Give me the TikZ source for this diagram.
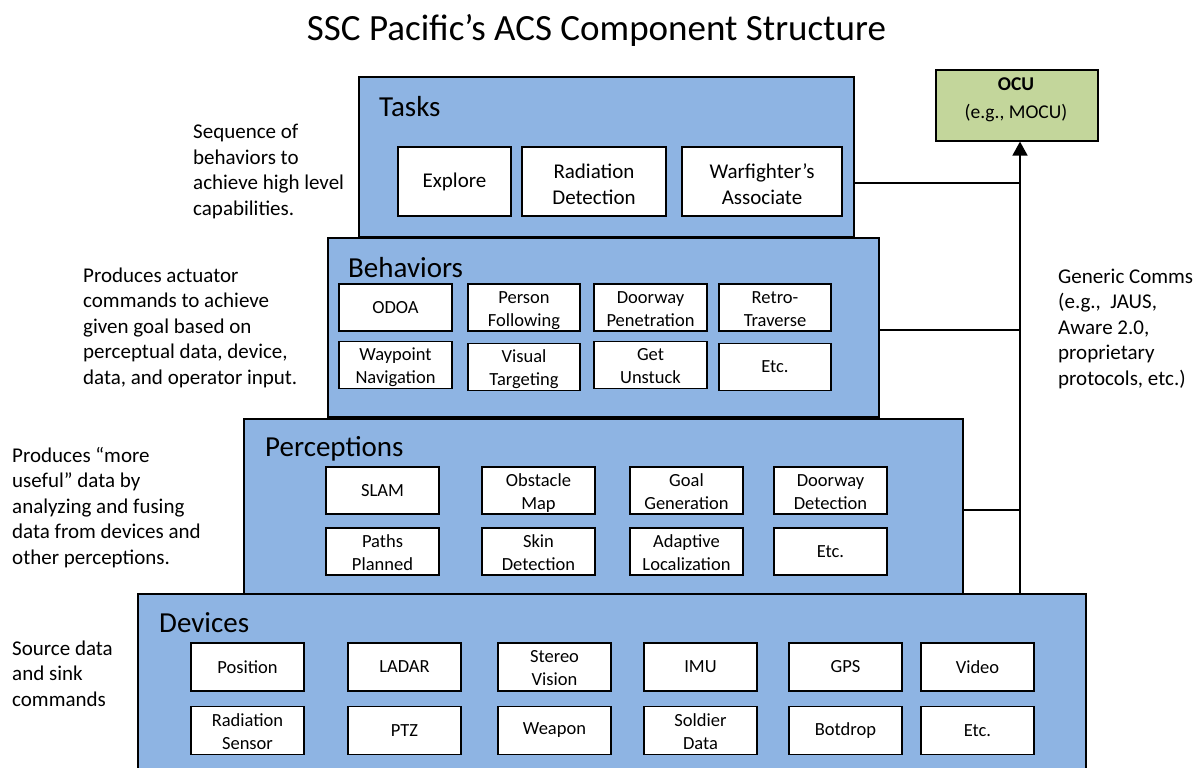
\documentclass[tikz,border=0pt]{standalone}
\usepackage{fontspec}
\setmainfont{Carlito}
\usetikzlibrary{arrows.meta}
\definecolor{layerblue}{HTML}{8EB4E3}
\definecolor{ocugreen}{HTML}{C3D69B}
\newcommand\fsz[2]{\fontsize{#1}{#2}\selectfont}
\tikzset{
  layer/.style={draw=black, fill=layerblue, line width=1.6pt},
  layerlabel/.style={anchor=base west, inner sep=0, font=\fsz{29}{34}},
  ibox/.style={draw=black, fill=white, line width=1.6pt, inner sep=0, align=center,
    minimum width=113, minimum height=47, font=\fsz{18.5}{23}},
  ibox2/.style={ibox, text height=41pt, text depth=4pt},
  tbox/.style={ibox, minimum height=69, font=\fsz{21}{26}},
  tbox2/.style={tbox, text height=49pt, text depth=4pt},
  note/.style={anchor=base west, inner sep=0, align=left, font=\fsz{21}{25.5}},
  conn/.style={line width=1.6pt, draw=black},
}
\begin{document}
\begin{tikzpicture}[x=1pt,y=-1pt]
\useasboundingbox (0,0) rectangle (1200,768);
\fill[white] (0,0) rectangle (1200,768);

% title
\node[anchor=base, inner sep=0, font=\fsz{37}{44}] (title) at (596.5,41) {SSC Pacific’s ACS Component Structure};

% layers
\node[layer, minimum width=948, minimum height=190, anchor=north west, inner sep=0] (devices) at (137,593) {};
\node[layer, minimum width=719, minimum height=175, anchor=north west, inner sep=0] (perceptions) at (243,418) {};
\node[layer, minimum width=551, minimum height=179, anchor=north west, inner sep=0] (behaviors) at (327,237) {};
\node[layer, minimum width=495, minimum height=160, anchor=north west, inner sep=0] (tasks) at (358,76) {};

\node[layerlabel] (tasksl) at (379,116) {Tasks};
\node[layerlabel] (behaviorsl) at (348,277) {Behaviors};
\node[layerlabel] (perceptionsl) at (265,456) {Perceptions};
\node[layerlabel] (devicesl) at (159,632) {Devices};

% tasks
\node[tbox] (explore) at (454.5,181.5) {Explore};
\node[tbox2, minimum width=144] (raddet) at (594,181.5) {Radiation\\Detection};
\node[tbox2, minimum width=160] (warf) at (762,181.5) {Warfighter’s\\Associate};

% behaviors
\node[ibox] (odoa) at (395.5,307.5) {ODOA};
\node[ibox2, minimum width=112] (personf) at (524,307.5) {Person\\Following};
\node[ibox2] (doorpen) at (650.5,307.5) {Doorway\\Penetration};
\node[ibox2, minimum width=112] (retro) at (775,307.5) {Retro-\\Traverse};
\node[ibox2] (waypoint) at (395.5,365) {Waypoint\\Navigation};
\node[ibox2, minimum width=112] (visual) at (524,367) {Visual\\Targeting};
\node[ibox2] (unstuck) at (650.5,365) {Get\\Unstuck};
\node[ibox, minimum width=112] (betc) at (775,367) {Etc.};

% perceptions
\node[ibox] (slam) at (382.5,490.5) {SLAM};
\node[ibox2] (obst) at (538.5,490.5) {Obstacle\\Map};
\node[ibox2] (goal) at (686.5,490.5) {Goal\\Generation};
\node[ibox2] (doordet) at (830.5,490.5) {Doorway\\Detection};
\node[ibox2] (paths) at (382.5,551.5) {Paths\\Planned};
\node[ibox2] (skin) at (538.5,551.5) {Skin\\Detection};
\node[ibox2] (adapt) at (686.5,551.5) {Adaptive\\Localization};
\node[ibox] (petc) at (830.5,551.5) {Etc.};

% devices
\node[ibox, minimum height=48] (position) at (247.5,667) {Position};
\node[ibox, minimum height=48] (ladar) at (404.5,667) {LADAR};
\node[ibox2, minimum height=48] (stereo) at (554.5,667) {Stereo\\Vision};
\node[ibox, minimum height=48] (imu) at (700.5,667) {IMU};
\node[ibox, minimum height=48] (gps) at (845.5,667) {GPS};
\node[ibox, minimum height=48] (video) at (977.5,667) {Video};
\node[ibox2, minimum height=48] (radsens) at (247.5,730.5) {Radiation\\Sensor};
\node[ibox, minimum height=48] (ptz) at (404.5,730.5) {PTZ};
\node[ibox, minimum height=48] (weapon) at (554.5,730.5) {Weapon};
\node[ibox2, minimum height=48] (soldier) at (700.5,730.5) {Soldier\\Data};
\node[ibox, minimum height=48] (botdrop) at (845.5,730.5) {Botdrop};
\node[ibox, minimum height=48] (detc) at (977.5,730.5) {Etc.};

% OCU
\node[draw=black, fill=ocugreen, line width=1.6pt, minimum width=162, minimum height=71, anchor=north west, inner sep=0] (ocu) at (935,69) {};
\node[anchor=base, inner sep=0, font=\fsz{19.5}{24}\bfseries] (ocut) at (1016,91) {OCU};
\node[anchor=base, inner sep=0, font=\fsz{19.5}{24}] (ocus) at (1016,118) {(e.g., MOCU)};

% comms trunk
\coordinate (trunk) at (1020,593);
\coordinate (j1) at (1020,183);
\coordinate (j2) at (1020,330);
\coordinate (j3) at (1020,510);
\draw[conn, -{Triangle[length=14pt,width=15pt]}] (trunk) -- (ocu.south -| trunk);
\draw[conn] (tasks.east |- j1) -- (j1);
\draw[conn] (behaviors.east |- j2) -- (j2);
\draw[conn] (perceptions.east |- j3) -- (j3);

% notes (base anchor = last line baseline)
\node[note] (ntasks) at (193,215) {Sequence of\\behaviors to\\achieve high level\\capabilities.};
\node[note] (nbeh) at (83,384) {Produces actuator\\commands to achieve\\given goal based on\\perceptual data, device,\\data, and operator input.};
\node[note] (nperc) at (12,564) {Produces “more\\useful” data by\\analyzing and fusing\\data from devices and\\other perceptions.};
\node[note] (ndev) at (12,706) {Source data\\and sink\\commands};
\node[note] (ncomms) at (1058,385) {Generic Comms\\(e.g.,\ \ JAUS,\\Aware 2.0,\\proprietary\\protocols, etc.)};
\end{tikzpicture}
\end{document}
